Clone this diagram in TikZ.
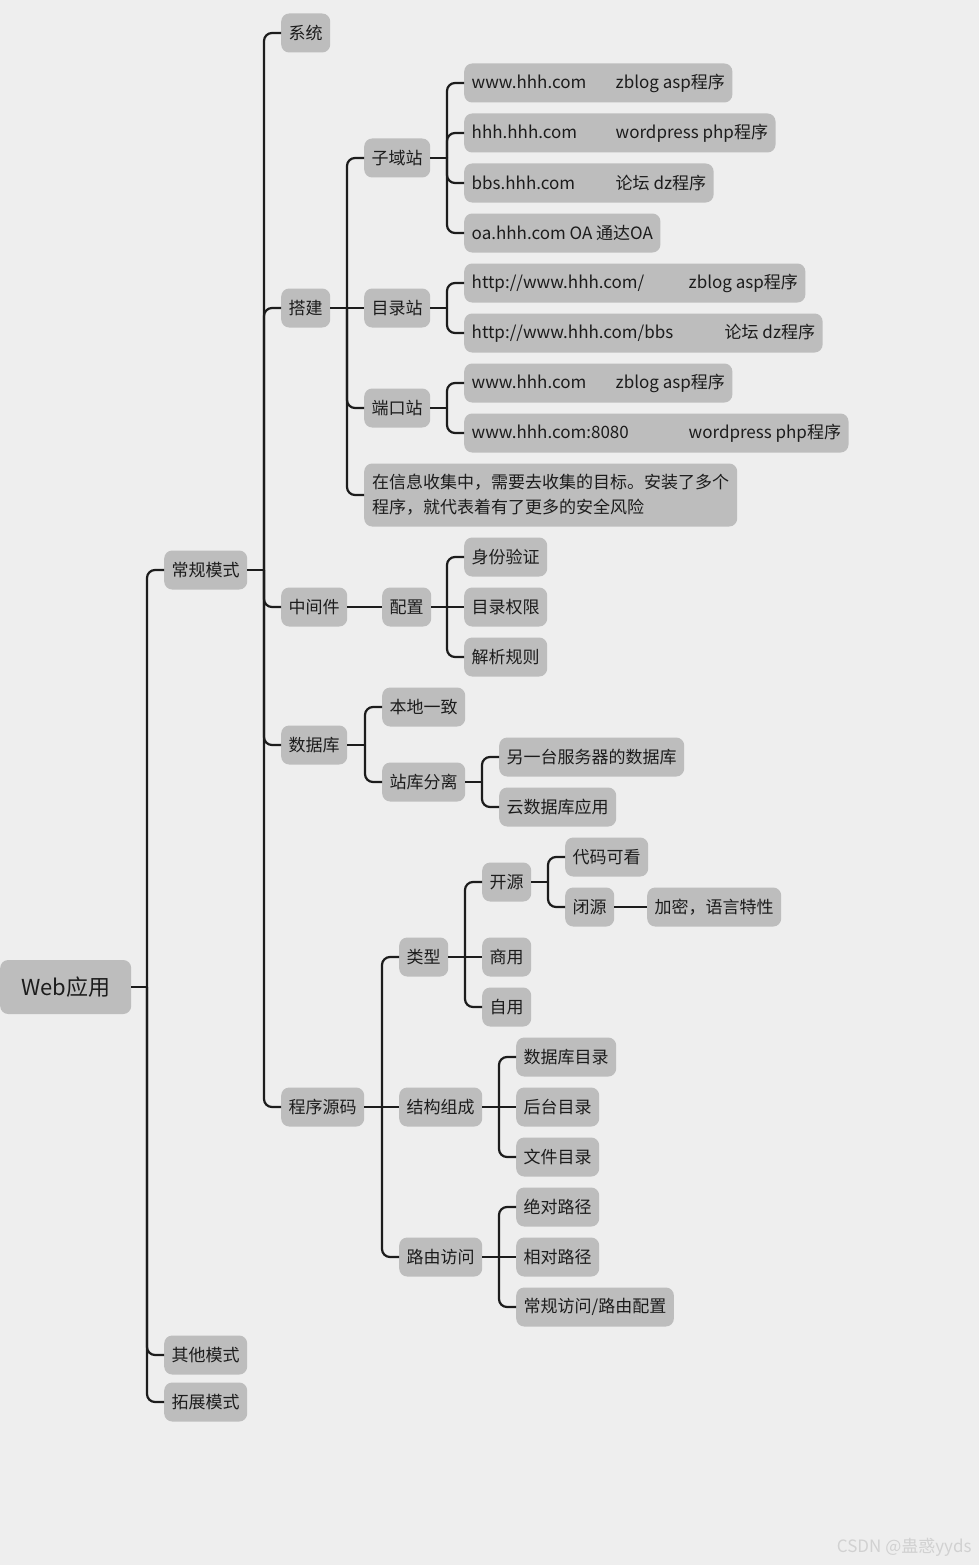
\documentclass[tikz,border=0pt]{standalone}
\usepackage{fontspec}
\setmainfont{Noto Sans CJK SC}
\usetikzlibrary{positioning}

\definecolor{bgcol}{HTML}{EEEEEE}
\definecolor{boxcol}{HTML}{BDBDBD}
\definecolor{inkcol}{HTML}{1C1C1C}
\tikzset{
  topic/.style={fill=boxcol, rounded corners=8pt, anchor=west, text=inkcol,
    font=\fontsize{17}{20}\selectfont, inner xsep=7.5pt, inner ysep=0pt, minimum height=39pt},
  link/.style={draw=inkcol, line width=2.2pt},
}

\begin{document}
\begin{tikzpicture}[x=1pt,y=-1pt]
  \fill[bgcol] (0,0) rectangle (979,1565);
  \useasboundingbox (0,0) rectangle (979,1565);

  % root and modes
  \node[topic, minimum width=131pt, minimum height=54pt, font=\fontsize{22}{26}\selectfont] (web) at (0,987) {Web应用};
  \foreach \n/\y/\t in {cg/570/常规模式, qt/1355/其他模式, tz/1402/拓展模式}
    \node[topic] (\n) at (164,\y) {\t};

  % second level
  \foreach \n/\y/\t in {xt/33/系统, dj/308/搭建, zjj/607/中间件, sjk/745/数据库, cx/1107/程序源码}
    \node[topic] (\n) at (281,\y) {\t};

  % site types
  \foreach \n/\y/\t in {zy/158/子域站, ml/308/目录站, dk/408/端口站}
    \node[topic] (\n) at (364,\y) {\t};
  \node[topic, align=left, font=\fontsize{17}{25}\selectfont, minimum height=63pt, inner xsep=8pt] (note) at (364,495)
    {在信息收集中，需要去收集的目标。安装了多个\\程序，就代表着有了更多的安全风险};

  \node[topic] (zy1) at (464,83) {\makebox[144pt][l]{www.hhh.com}zblog asp程序};
  \node[topic] (zy2) at (464,133) {\makebox[144pt][l]{hhh.hhh.com}wordpress php程序};
  \node[topic] (zy3) at (464,183) {\makebox[144pt][l]{bbs.hhh.com}论坛 dz程序};
  \node[topic] (zy4) at (464,233) {oa.hhh.com OA 通达OA};
  \node[topic] (ml1) at (464,283) {\makebox[217pt][l]{http://www.hhh.com/}zblog asp程序};
  \node[topic] (ml2) at (464,333) {\makebox[253pt][l]{http://www.hhh.com/bbs}论坛 dz程序};
  \node[topic] (dk1) at (464,383) {\makebox[144pt][l]{www.hhh.com}zblog asp程序};
  \node[topic] (dk2) at (464,433) {\makebox[217pt][l]{www.hhh.com:8080}wordpress php程序};

  % middleware
  \node[topic] (pz) at (382,607) {配置};
  \foreach \n/\y/\t in {sf/557/身份验证, qx/607/目录权限, jx/657/解析规则}
    \node[topic] (\n) at (464,\y) {\t};

  % database
  \node[topic] (bd) at (382,707) {本地一致};
  \node[topic] (zk) at (382,782) {站库分离};
  \node[topic] (lt) at (499,757) {另一台服务器的数据库};
  \node[topic] (yun) at (499,807) {云数据库应用};

  % source code
  \foreach \n/\y/\t in {lx/957/类型, jg/1107/结构组成, ly/1257/路由访问}
    \node[topic] (\n) at (399,\y) {\t};
  \foreach \n/\y/\t in {ky/882/开源, sy/957/商用, zyong/1007/自用}
    \node[topic] (\n) at (482,\y) {\t};
  \node[topic] (dm) at (565,857) {代码可看};
  \node[topic] (by) at (565,907) {闭源};
  \node[topic] (jm) at (647,907) {加密，语言特性};
  \foreach \n/\y/\t in {jg1/1057/数据库目录, jg2/1107/后台目录, jg3/1157/文件目录,
                        ly1/1207/绝对路径, ly2/1257/相对路径}
    \node[topic] (\n) at (516,\y) {\t};
  \node[topic] (ly3) at (516,1307) {常规访问/路由配置};

  % branches going up or down
  \foreach \p/\c in {web/cg, web/qt, web/tz, cg/xt, cg/dj, cg/zjj, cg/sjk, cg/cx,
      dj/zy, dj/dk, dj/note, zy/zy1, zy/zy2, zy/zy3, zy/zy4, ml/ml1, ml/ml2,
      dk/dk1, dk/dk2, pz/sf, pz/jx, sjk/bd, sjk/zk, zk/lt, zk/yun,
      cx/lx, cx/ly, lx/ky, lx/zyong, ky/dm, ky/by,
      jg/jg1, jg/jg3, ly/ly1, ly/ly3} {
    \draw[link] (\p.east) -- ([xshift=-17pt]\c.west |- \p.east);
    \draw[link, rounded corners=8pt] ([xshift=-17pt]\c.west |- \p.east) |- (\c.west);
  }
  % straight branches
  \foreach \p/\c in {dj/ml, zjj/pz, pz/qx, lx/sy, by/jm, cx/jg, jg/jg2, ly/ly2}
    \draw[link] (\p.east) -- (\c.west);

  \node[anchor=east, text=black!18, font=\fontsize{17}{20}\selectfont] (wm) at (975,1547) {CSDN @蛊惑yyds};
\end{tikzpicture}
\end{document}
